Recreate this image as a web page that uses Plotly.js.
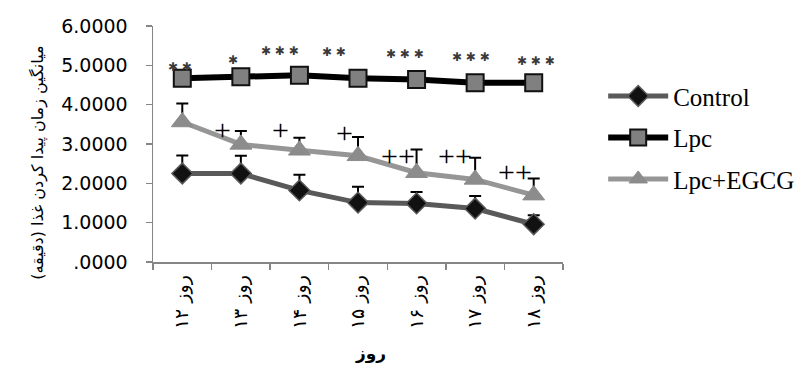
<!DOCTYPE html>
<html>
<head>
<meta charset="utf-8">
<script src="https://cdn.plot.ly/plotly-3.0.1.min.js"></script>
<style>html,body{margin:0;padding:0;background:#fff;}#chart{width:812px;height:381px;}</style>
</head>
<body>
<div id="chart"></div>
<script>
// ---- data ----
const days = ['روز ۱۲','روز ۱۳','روز ۱۴','روز ۱۵','روز ۱۶','روز ۱۷','روز ۱۸'];
const controlMean = [2.25, 2.25, 1.82, 1.51, 1.49, 1.36, 0.96];
const controlErr  = [0.46, 0.45, 0.40, 0.40, 0.29, 0.32, 0.23];
const lpcMean     = [4.67, 4.71, 4.75, 4.67, 4.64, 4.56, 4.56];
const lpcErr      = [0.10, 0.10, 0.10, 0.10, 0.10, 0.10, 0.10];
const egcgMean    = [3.56, 2.99, 2.84, 2.70, 2.27, 2.10, 1.70];
const egcgErr     = [0.47, 0.34, 0.32, 0.48, 0.59, 0.55, 0.42];
const starLabels  = ['✱ ✱','✱','✱ ✱ ✱','✱ ✱','✱ ✱ ✱','✱ ✱ ✱','✱ ✱ ✱'];
const plusLabels  = ['','+','+','+','++','++','++'];
const yTickVals   = [0,1,2,3,4,5,6];
const yTickText   = ['.0000','1.0000','2.0000','3.0000','4.0000','5.0000','6.0000'];
const yTitle = 'میانگین زمان پیدا کردن غذا (دقیقه)\u200F';
const xTitle = 'روز';

// ---- layout offsets (pixels) for annotation text ----
const starDx = [-2,-8,-19,-24,-12,-4,2];
const starDy = [11,17,24,26,25,26,22];
const plusDx = [0,-18,-19,-14,-19,-20,-19];
const plusDy = [0,15,21,23,17,24,24];

const zeros = days.map(() => 0);
function errBar(arr){
  return {type:'data', symmetric:false, array:arr, arrayminus:zeros, color:'#000', thickness:2, width:6};
}

const traces = [
  {x:days, y:controlMean, name:'Control', type:'scatter', mode:'lines+markers', legendgroup:'a',
   line:{color:'#595959', width:5},
   marker:{symbol:'diamond', size:16, color:'#111', line:{color:'#595959', width:1.5}},
   error_y:errBar(controlErr)},
  {x:days, y:lpcMean, name:'Lpc', type:'scatter', mode:'lines+markers', legendgroup:'b',
   line:{color:'#000', width:6},
   marker:{symbol:'square', size:17, color:'#808080', line:{color:'#111', width:2}},
   error_y:Object.assign(errBar(lpcErr), {visible:false})},
  {x:days, y:egcgMean, name:'Lpc+EGCG', type:'scatter', mode:'lines+markers', legendgroup:'c',
   line:{color:'#969696', width:5},
   marker:{symbol:'triangle-up', size:19, color:'#8c8c8c', line:{color:'#8c8c8c', width:1}},
   error_y:errBar(egcgErr)}
];

const annotations = [];
days.forEach((d,i) => {
  annotations.push({x:d, y:lpcMean[i], xref:'x', yref:'y', text:starLabels[i], showarrow:false,
    xshift:starDx[i], yshift:starDy[i], font:{family:'DejaVu Sans', size:12, color:'#3a3a3a'}});
  if (plusLabels[i]) {
    annotations.push({x:d, y:egcgMean[i], xref:'x', yref:'y', text:plusLabels[i], showarrow:false,
      xshift:plusDx[i], yshift:plusDy[i], font:{family:'Liberation Serif', size:30, color:'#000'}});
  }
});
annotations.push({x:-0.31, y:0.42, xref:'paper', yref:'paper', text:yTitle, textangle:-90, showarrow:false,
  font:{family:'DejaVu Sans', size:16, color:'#000'}});
annotations.push({x:0.53, y:-0.44, xref:'paper', yref:'paper', text:'<b>'+xTitle+'</b>', showarrow:false,
  font:{family:'DejaVu Sans', size:17, color:'#000'}});

const layout = {
  width:812, height:381,
  margin:{l:153, r:229, t:26, b:119},
  paper_bgcolor:'#fff', plot_bgcolor:'#fff',
  showlegend:true,
  legend:{x:1.098, y:0.80, xanchor:'left', yanchor:'top', traceorder:'grouped', tracegroupgap:6,
    itemwidth:60, font:{family:'Liberation Serif', size:25, color:'#000'}, bgcolor:'rgba(0,0,0,0)'},
  xaxis:{type:'category', showgrid:false, zeroline:false, showline:true, linecolor:'#868686', linewidth:1.5,
    ticks:'outside', tickson:'boundaries', ticklen:6, tickcolor:'#868686', tickwidth:1.5,
    tickangle:-90, ticklabelstandoff:4, tickfont:{family:'DejaVu Sans', size:19, color:'#000'}, range:[-0.5,6.5]},
  yaxis:{range:[0,6], showgrid:false, zeroline:false, showline:true, linecolor:'#868686', linewidth:1.5,
    ticks:'outside', ticklen:6, tickcolor:'#868686', tickwidth:1.5,
    tickvals:yTickVals, ticktext:yTickText, ticklabelstandoff:14,
    tickfont:{family:'DejaVu Sans', size:19, color:'#000'}},
  annotations:annotations
};

Plotly.newPlot('chart', traces, layout, {staticPlot:true, displayModeBar:false});
</script>
</body>
</html>
